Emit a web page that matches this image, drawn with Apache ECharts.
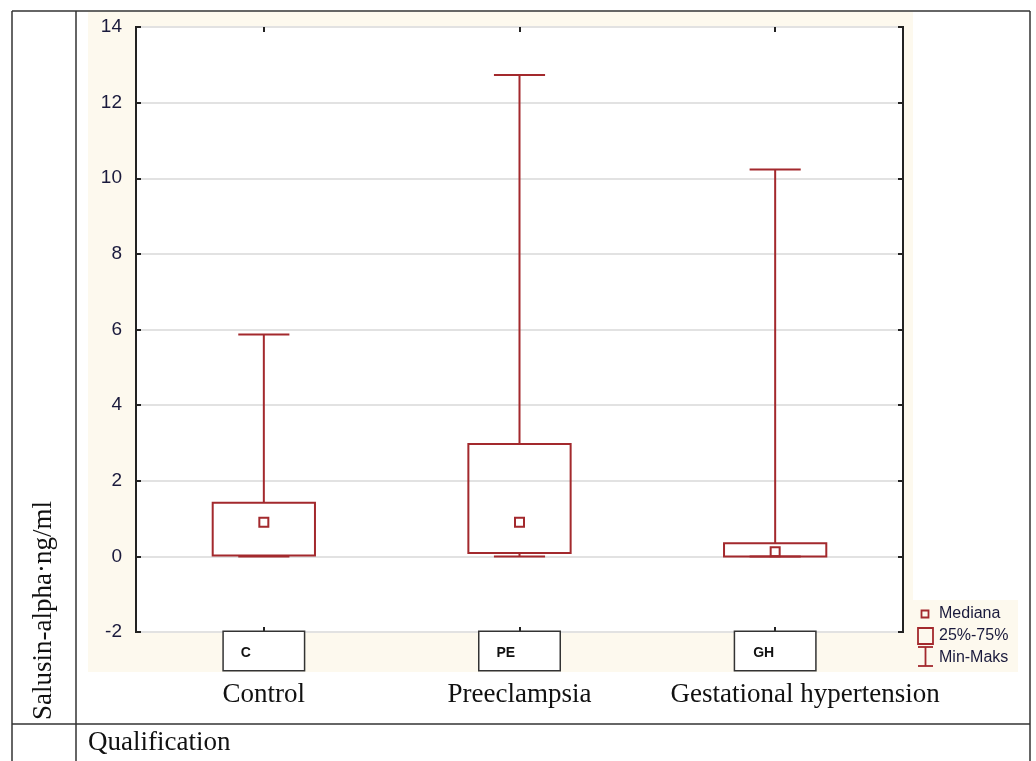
<!DOCTYPE html>
<html><head><meta charset="utf-8">
<script src="https://cdn.jsdelivr.net/npm/echarts@6.0.0/dist/echarts.min.js"></script>
<style>html,body{margin:0;padding:0;background:#fff}#c{width:1036px;height:761px}</style>
</head><body><div id="c"></div>
<script>
// ---- data ----
const categories = ['C', 'PE', 'GH'];
const groupNames = ['Control', 'Preeclampsia', 'Gestational hypertension'];
const minVals = [0, 0, 0];
const q1Vals = [0.02, 0.09, 0.0];
const medianVals = [0.9, 0.9, 0.12];
const q3Vals = [1.42, 2.97, 0.35];
const maxVals = [5.87, 12.73, 10.23];
const yMin = -2, yMax = 14, yInterval = 2;
const legendLabels = ['Mediana', '25%-75%', 'Min-Maks'];
const yTitle = 'Salusin-alpha·ng/ml';
const rowTitle = 'Qualification';

// ---- styles ----
const RED = '#a3292d';
const TICK_COLOR = '#1a1a3c';
const CREAM = '#fdf9ee';
const LINE = '#333';
const SERIF = '"Liberation Serif", "Times New Roman", serif';
const SANS = '"Liberation Sans", Arial, sans-serif';

const rows = categories.map((c, i) => [i, minVals[i], q1Vals[i], medianVals[i], q3Vals[i], maxVals[i]]);

function boxItem(params, api) {
  const i = api.value(0);
  const band = api.size([1, 0])[0];
  const w = band * 0.4;
  const t = api.coord([i, api.value(4)]);
  const b = api.coord([i, api.value(2)]);
  return { type: 'rect', shape: { x: t[0] - w / 2, y: t[1], width: w, height: b[1] - t[1] },
    style: { fill: 'none', stroke: RED, lineWidth: 2 } };
}
function whiskerItem(params, api) {
  const i = api.value(0);
  const band = api.size([1, 0])[0];
  const cw = band * 0.2;
  const mx = api.coord([i, api.value(5)]);
  const q3 = api.coord([i, api.value(4)]);
  const q1 = api.coord([i, api.value(2)]);
  const mn = api.coord([i, api.value(1)]);
  const st = { stroke: RED, lineWidth: 2 };
  return { type: 'group', children: [
    { type: 'line', shape: { x1: mx[0], y1: mx[1], x2: q3[0], y2: q3[1] }, style: st },
    { type: 'line', shape: { x1: mx[0] - cw / 2, y1: mx[1], x2: mx[0] + cw / 2, y2: mx[1] }, style: st },
    { type: 'line', shape: { x1: q1[0], y1: q1[1], x2: mn[0], y2: mn[1] }, style: st },
    { type: 'line', shape: { x1: mn[0] - cw / 2, y1: mn[1], x2: mn[0] + cw / 2, y2: mn[1] }, style: st }
  ] };
}
function medianItem(params, api) {
  const i = api.value(0);
  const p = api.coord([i, api.value(3)]);
  const s = 9;
  return { type: 'rect', shape: { x: p[0] - s / 2, y: p[1] - s / 2, width: s, height: s },
    style: { fill: 'none', stroke: RED, lineWidth: 2 } };
}

const boxPad = { C: 17, PE: 17, GH: 18 };
const rich = {};
categories.forEach(c => {
  rich['b' + c] = { width: 80 - boxPad[c], height: 34, lineHeight: 38, padding: [4, 0, 0, boxPad[c]], align: 'left',
    backgroundColor: '#fff', borderColor: '#333', borderWidth: 1.5,
    fontFamily: SANS, fontWeight: 'bold', fontSize: 14, color: '#111' };
});

const chart = echarts.init(document.getElementById('c'), null, { renderer: 'canvas' });
const option = {
  animation: false,
  backgroundColor: '#fff',
  grid: { left: 136, right: 133, top: 27, bottom: 129, show: true, backgroundColor: '#fff',
    borderColor: '#222', borderWidth: 2, containLabel: false },
  xAxis: [
    { type: 'category', data: categories, position: 'bottom', boundaryGap: true,
      axisLine: { show: false, onZero: false },
      axisTick: { show: true, inside: true, alignWithLabel: true, length: 5, lineStyle: { color: '#222', width: 2 } },
      axisLabel: { interval: 0, margin: 0, formatter: v => '{b' + v + '|' + v + '}', rich: rich },
      splitLine: { show: false } },
    { type: 'category', data: categories, position: 'top', boundaryGap: true,
      axisLine: { show: false, onZero: false },
      axisTick: { show: true, inside: true, alignWithLabel: true, length: 5, lineStyle: { color: '#222', width: 2 } },
      axisLabel: { show: false }, splitLine: { show: false } },
    { type: 'category', data: groupNames, position: 'bottom', boundaryGap: true,
      axisLine: { show: false, onZero: false }, axisTick: { show: false },
      axisLabel: { interval: 0, margin: 48, fontFamily: SERIF, fontSize: 27, lineHeight: 30, color: '#111',
        formatter: (v, idx) => idx === 2 ? '{g|' + v + '}' : '{n|' + v + '}',
        rich: { n: { fontFamily: SERIF, fontSize: 27, lineHeight: 30, color: '#111' },
                g: { fontFamily: SERIF, fontSize: 27, lineHeight: 30, color: '#111', padding: [0, 0, 0, 60] } } },
      splitLine: { show: false } }
  ],
  yAxis: [
    { type: 'value', min: yMin, max: yMax, interval: yInterval,
      axisLine: { show: false },
      axisTick: { show: true, inside: true, length: 5, lineStyle: { color: '#222', width: 2 } },
      axisLabel: { margin: 14, fontFamily: SANS, fontSize: 19, color: TICK_COLOR },
      splitLine: { show: true, lineStyle: { color: '#e2e2e2', width: 2 } } },
    { type: 'value', min: yMin, max: yMax, interval: yInterval, position: 'right',
      axisLine: { show: false },
      axisTick: { show: true, inside: true, length: 5, lineStyle: { color: '#222', width: 2 } },
      axisLabel: { show: false }, splitLine: { show: false } }
  ],
  series: [
    { name: legendLabels[1], type: 'custom', xAxisIndex: 0, yAxisIndex: 0, renderItem: boxItem,
      encode: { x: 0, y: [1, 2, 3, 4, 5] }, data: rows, z: 3 },
    { name: legendLabels[2], type: 'custom', xAxisIndex: 0, yAxisIndex: 0, renderItem: whiskerItem,
      encode: { x: 0, y: [1, 2, 3, 4, 5] }, data: rows, z: 3 },
    { name: legendLabels[0], type: 'custom', xAxisIndex: 0, yAxisIndex: 0, renderItem: medianItem,
      encode: { x: 0, y: [1, 2, 3, 4, 5] }, data: rows, z: 4 }
  ],
  graphic: [
    { type: 'rect', z: -100, silent: true, shape: { x: 88, y: 12, width: 825, height: 660 }, style: { fill: CREAM } },
    { type: 'group', z: 10, children: [
      { type: 'rect', shape: { x: 913, y: 600, width: 105, height: 72 }, style: { fill: CREAM } },
      { type: 'rect', shape: { x: 921.5, y: 610.5, width: 7, height: 7 }, style: { fill: 'none', stroke: RED, lineWidth: 1.8 } },
      { type: 'text', x: 939, y: 614, style: { text: legendLabels[0], font: '16px ' + SANS, fill: TICK_COLOR, textVerticalAlign: 'middle' } },
      { type: 'rect', shape: { x: 918, y: 628, width: 15, height: 16 }, style: { fill: 'none', stroke: RED, lineWidth: 1.8 } },
      { type: 'text', x: 939, y: 636, style: { text: legendLabels[1], font: '16px ' + SANS, fill: TICK_COLOR, textVerticalAlign: 'middle' } },
      { type: 'polyline', shape: { points: [[918, 647], [933, 647]] }, style: { stroke: RED, lineWidth: 1.8 } },
      { type: 'polyline', shape: { points: [[925.5, 647], [925.5, 666]] }, style: { stroke: RED, lineWidth: 1.8 } },
      { type: 'polyline', shape: { points: [[918, 666], [933, 666]] }, style: { stroke: RED, lineWidth: 1.8 } },
      { type: 'text', x: 939, y: 658, style: { text: legendLabels[2], font: '16px ' + SANS, fill: TICK_COLOR, textVerticalAlign: 'middle' } }
    ] },
    { type: 'group', z: 20, silent: true, children: [
      { type: 'line', shape: { x1: 12, y1: 11, x2: 1030, y2: 11 }, style: { stroke: LINE, lineWidth: 1.5 } },
      { type: 'line', shape: { x1: 12, y1: 11, x2: 12, y2: 761 }, style: { stroke: LINE, lineWidth: 1.5 } },
      { type: 'line', shape: { x1: 1030, y1: 11, x2: 1030, y2: 761 }, style: { stroke: LINE, lineWidth: 1.5 } },
      { type: 'line', shape: { x1: 76, y1: 11, x2: 76, y2: 761 }, style: { stroke: LINE, lineWidth: 1.5 } },
      { type: 'line', shape: { x1: 12, y1: 724, x2: 1030, y2: 724 }, style: { stroke: LINE, lineWidth: 1.5 } }
    ] },
    { type: 'text', z: 20, x: 44, y: 720, rotation: Math.PI / 2,
      style: { text: yTitle, font: '27px ' + SERIF, fill: '#111', textAlign: 'left', textVerticalAlign: 'middle' } },
    { type: 'text', z: 20, x: 88, y: 743,
      style: { text: rowTitle, font: '27px ' + SERIF, fill: '#111', textAlign: 'left', textVerticalAlign: 'middle' } }
  ]
};
chart.setOption(option);
</script>
</body></html>
